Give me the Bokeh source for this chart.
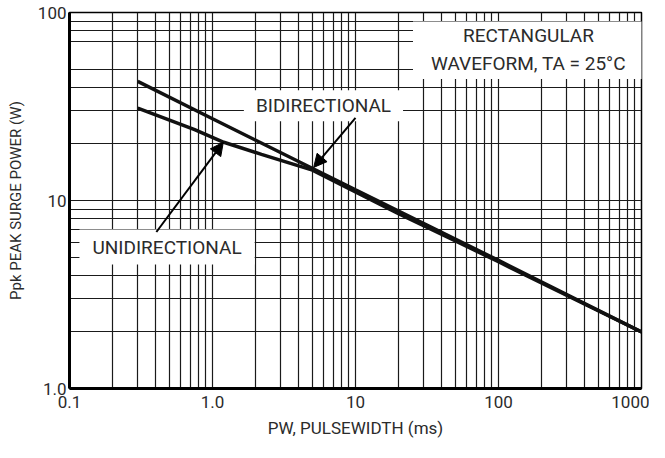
from bokeh.plotting import figure
from bokeh.models import FixedTicker, CustomJSTickFormatter, Label, Arrow, NormalHead, Range1d
from bokeh.embed import file_html
from bokeh.resources import INLINE

# ---- data ----
bi_pw = [0.3, 1.0, 10, 100, 1000]
bi_ppk = [43, 27.2, 11.4, 4.8, 2.0]

uni_pw = [0.3, 0.45, 0.75, 1.2, 2.2, 5, 10, 20, 50, 100, 1000]
uni_ppk = [31, 27.6, 23.8, 20.4, 17.6, 14.5, 11.1, 8.5, 6.1, 4.72, 2.0]

x_ticks = [0.1, 1, 10, 100, 1000]
y_ticks = [1, 10, 100]

x_grid = [0.1, 0.2, 0.3, 0.4, 0.5, 0.6, 0.7, 0.8, 0.9,
          1, 2, 3, 4, 5, 6, 7, 8, 9,
          10, 20, 30, 40, 50, 60, 70, 80, 90,
          100, 200, 300, 400, 500, 600, 700, 800, 900, 1000]
y_grid = [1, 2, 3, 4, 5, 6, 7, 8, 9,
          10, 20, 30, 40, 50, 70, 80, 90, 100]

# annotation anchors (data coordinates)
bi_label_xy = (5.97, 31.9)
uni_label_xy = (0.481, 5.65)
cond_label_xy = (162, 63)
bi_arrow = (10.0, 27.5, 5.1, 15.0)      # x_start, y_start, x_end, y_end
uni_arrow = (0.405, 6.8, 1.19, 20.4)

FONT = "Roboto"
TXT = "#2b2b2b"

p = figure(width=649, height=442, x_axis_type="log", y_axis_type="log",
           x_range=Range1d(0.1, 1000), y_range=Range1d(1, 100),
           output_backend="svg", toolbar_location=None,
           min_border_left=69, min_border_right=8, min_border_top=12, min_border_bottom=54)
p.background_fill_color = "white"
p.border_fill_color = "white"
p.outline_line_color = "black"
p.outline_line_width = 1.5

p.xgrid.ticker = FixedTicker(ticks=x_grid)
p.ygrid.ticker = FixedTicker(ticks=y_grid)
for g in (p.xgrid, p.ygrid):
    g.grid_line_color = "#1a1a1a"
    g.grid_line_width = 1.2
    g.grid_line_alpha = 1.0

fmt = CustomJSTickFormatter(code="return tick < 9.5 ? tick.toFixed(1) : tick.toFixed(0);")
p.xaxis.ticker = FixedTicker(ticks=x_ticks)
p.yaxis.ticker = FixedTicker(ticks=y_ticks)
for ax in (p.xaxis, p.yaxis):
    ax.formatter = fmt
    ax.axis_line_color = "black"
    ax.axis_line_width = 3
    ax.major_tick_line_color = None
    ax.minor_tick_line_color = None
    ax.major_tick_out = 0
    ax.major_tick_in = 0
    ax.minor_tick_out = 0
    ax.minor_tick_in = 0
    ax.major_label_text_font = FONT
    ax.major_label_text_font_size = "17px"
    ax.major_label_text_color = TXT
    ax.axis_label_text_font = FONT
    ax.axis_label_text_font_size = "17px"
    ax.axis_label_text_font_style = "normal"
    ax.axis_label_text_color = TXT

p.xaxis.axis_label = "PW, PULSEWIDTH (ms)"
p.yaxis.axis_label = "Ppk PEAK SURGE POWER (W)"
p.yaxis.axis_label_text_font_size = "15px"
p.xaxis.major_label_standoff = 7
p.yaxis.major_label_standoff = 3
p.xaxis.axis_label_standoff = 7
p.yaxis.axis_label_standoff = 10

p.line(bi_pw, bi_ppk, line_color="#111111", line_width=3.5)
p.line(uni_pw, uni_ppk, line_color="#111111", line_width=3.5)

def box_label(xy, text, pad):
    lab = Label(x=xy[0], y=xy[1], text=text, text_align="center", text_baseline="middle",
                text_font=FONT, text_font_size="19px", text_color=TXT,
                background_fill_color="white", background_fill_alpha=1.0,
                padding=pad)
    p.add_layout(lab)

box_label(bi_label_xy, "BIDIRECTIONAL", dict(left=12, right=12, top=4, bottom=4))
box_label(uni_label_xy, "UNIDIRECTIONAL", dict(left=13, right=13, top=6, bottom=6))
box_label(cond_label_xy, "RECTANGULAR\nWAVEFORM, TA = 25°C", dict(left=18, right=18, top=3, bottom=4))

for a in (bi_arrow, uni_arrow):
    p.add_layout(Arrow(end=NormalHead(size=13, fill_color="black", line_color="black"),
                       x_start=a[0], y_start=a[1], x_end=a[2], y_end=a[3],
                       line_color="black", line_width=2))

open("out.html", "w").write(file_html(p, INLINE))
